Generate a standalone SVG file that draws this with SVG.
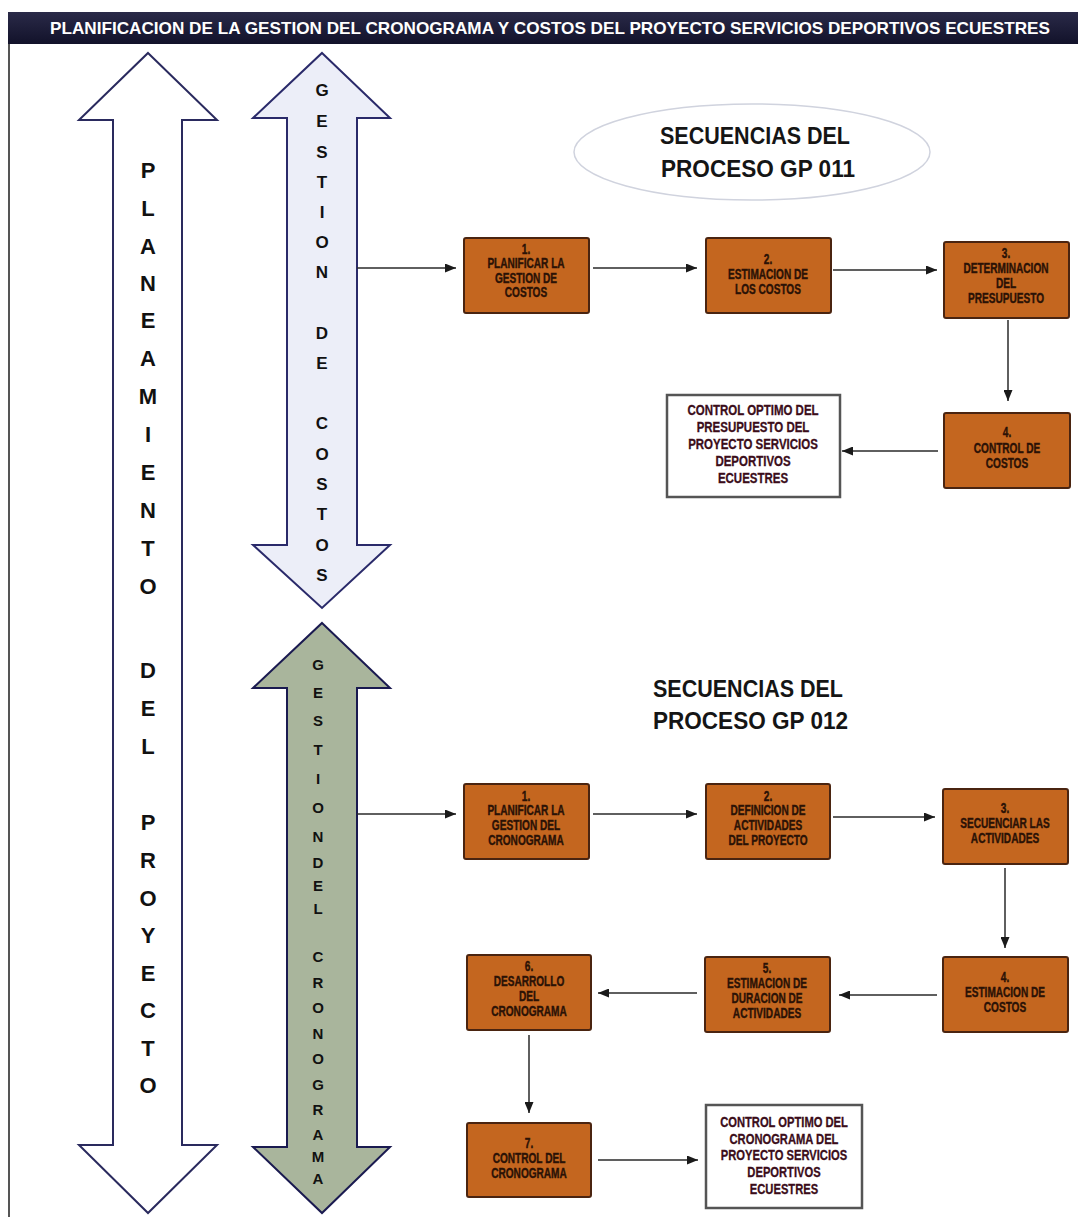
<svg xmlns="http://www.w3.org/2000/svg" width="1086" height="1217" viewBox="0 0 1086 1217">
<defs>
<marker id="ah" markerUnits="userSpaceOnUse" markerWidth="11" markerHeight="9" refX="11" refY="4.5" orient="auto">
<path d="M0,0 L11,4.5 L0,9 z" fill="#1a1a1a"/>
</marker>
<linearGradient id="tb" x1="0" y1="0" x2="0" y2="1">
<stop offset="0" stop-color="#2a2a48"/>
<stop offset="1" stop-color="#12122a"/>
</linearGradient>
</defs>
<style>
.bx{fill:#c4661f;stroke:#4a2410;stroke-width:2}
.wb{fill:#ffffff;stroke:#555555;stroke-width:2.5}
.bt{font-family:"Liberation Sans",Arial,sans-serif;font-weight:bold;font-size:14px;fill:#2b1206;stroke:#2b1206;stroke-width:0.4;text-anchor:middle}
.wt{font-family:"Liberation Sans",Arial,sans-serif;font-weight:bold;font-size:14px;fill:#3b0d1a;stroke:#3b0d1a;stroke-width:0.3;text-anchor:middle}
.cn{stroke:#2a2a2a;stroke-width:1.5;fill:none;marker-end:url(#ah)}
.al{font-family:"Liberation Sans",Arial,sans-serif;font-weight:bold;fill:#111111;text-anchor:middle}
.seq{font-family:"Liberation Sans",Arial,sans-serif;font-weight:bold;font-size:24px;fill:#151515}
</style>
<rect width="1086" height="1217" fill="#ffffff"/>
<g id="title">
<rect x="8" y="12" width="1070" height="32" fill="url(#tb)"/>
<text x="550" y="34" font-family="Liberation Sans, Arial, sans-serif" font-weight="bold" font-size="17" fill="#ffffff" text-anchor="middle" textLength="1000" lengthAdjust="spacingAndGlyphs">PLANIFICACION DE LA GESTION DEL CRONOGRAMA Y COSTOS DEL PROYECTO SERVICIOS DEPORTIVOS ECUESTRES</text>
</g>
<line x1="9" y1="44" x2="9" y2="1217" stroke="#555555" stroke-width="2"/>

<g id="planeamiento">
<path d="M148,53 L217,120 L182,120 L182,1145 L217,1145 L148,1213 L79,1145 L113,1145 L113,120 L79,120 Z" fill="#ffffff" stroke="#2a2a5e" stroke-width="2"/>
<g class="al" font-size="22">
<text x="148" y="178">P</text><text x="148" y="216">L</text><text x="148" y="254">A</text><text x="148" y="291">N</text><text x="148" y="328">E</text><text x="148" y="366">A</text><text x="148" y="404">M</text><text x="148" y="442">I</text><text x="148" y="480">E</text><text x="148" y="518">N</text><text x="148" y="556">T</text><text x="148" y="594">O</text>
<text x="148" y="678">D</text><text x="148" y="716">E</text><text x="148" y="754">L</text>
<text x="148" y="830">P</text><text x="148" y="868">R</text><text x="148" y="906">O</text><text x="148" y="943">Y</text><text x="148" y="981">E</text><text x="148" y="1018">C</text><text x="148" y="1056">T</text><text x="148" y="1093">O</text>
</g>
</g>

<g id="gestion-costos">
<path d="M322,53 L390,118 L357,118 L357,545 L390,545 L322,608 L253,545 L287,545 L287,118 L253,118 Z" fill="#eceef8" stroke="#2a2a6a" stroke-width="2"/>
<g class="al" font-size="17">
<text x="322" y="96">G</text><text x="322" y="127">E</text><text x="322" y="158">S</text><text x="322" y="188">T</text><text x="322" y="218">I</text><text x="322" y="248">O</text><text x="322" y="278">N</text>
<text x="322" y="339">D</text><text x="322" y="369">E</text>
<text x="322" y="429">C</text><text x="322" y="460">O</text><text x="322" y="490">S</text><text x="322" y="520">T</text><text x="322" y="551">O</text><text x="322" y="581">S</text>
</g>
</g>

<g id="gestion-cronograma">
<path d="M322,623 L390,688 L357,688 L357,1147 L390,1147 L322,1213 L253,1147 L287,1147 L287,688 L253,688 Z" fill="#a9b59c" stroke="#1a1a50" stroke-width="2"/>
<g class="al" font-size="15">
<text x="318" y="670">G</text><text x="318" y="698">E</text><text x="318" y="726">S</text><text x="318" y="755">T</text><text x="318" y="784">I</text><text x="318" y="813">O</text><text x="318" y="842">N</text>
<text x="318" y="868">D</text><text x="318" y="891">E</text><text x="318" y="914">L</text>
<text x="318" y="962">C</text><text x="318" y="988">R</text><text x="318" y="1013">O</text><text x="318" y="1039">N</text><text x="318" y="1064">O</text><text x="318" y="1090">G</text><text x="318" y="1115">R</text><text x="318" y="1140">A</text><text x="318" y="1162">M</text><text x="318" y="1184">A</text>
</g>
</g>

<g id="seq-011">
<ellipse cx="752" cy="152" rx="178" ry="48" fill="none" stroke="#d0d3de" stroke-width="1.5"/>
<text class="seq" x="660" y="144" textLength="190" lengthAdjust="spacingAndGlyphs">SECUENCIAS DEL</text>
<text class="seq" x="661" y="177" textLength="194" lengthAdjust="spacingAndGlyphs">PROCESO GP 011</text>
</g>
<g id="seq-012">
<text class="seq" x="653" y="697" textLength="190" lengthAdjust="spacingAndGlyphs">SECUENCIAS DEL</text>
<text class="seq" x="653" y="729" textLength="195" lengthAdjust="spacingAndGlyphs">PROCESO GP 012</text>
</g>

<g id="b1"><rect class="bx" x="464" y="238" width="125" height="75" rx="2"/>
<text class="bt" transform="translate(526 0) scale(0.72 1)"><tspan x="0" y="254">1.</tspan><tspan x="0" y="268">PLANIFICAR LA</tspan><tspan x="0" y="283">GESTION DE</tspan><tspan x="0" y="297">COSTOS</tspan></text></g>
<g id="b2"><rect class="bx" x="706" y="238" width="125" height="75" rx="2"/>
<text class="bt" transform="translate(768 0) scale(0.72 1)"><tspan x="0" y="264">2.</tspan><tspan x="0" y="279">ESTIMACION DE</tspan><tspan x="0" y="294">LOS COSTOS</tspan></text></g>
<g id="b3"><rect class="bx" x="944" y="242" width="125" height="76" rx="2"/>
<text class="bt" transform="translate(1006 0) scale(0.72 1)"><tspan x="0" y="258">3.</tspan><tspan x="0" y="273">DETERMINACION</tspan><tspan x="0" y="288">DEL</tspan><tspan x="0" y="303">PRESUPUESTO</tspan></text></g>
<g id="b4"><rect class="bx" x="944" y="413" width="126" height="75" rx="2"/>
<text class="bt" transform="translate(1007 0) scale(0.72 1)"><tspan x="0" y="437">4.</tspan><tspan x="0" y="453">CONTROL DE</tspan><tspan x="0" y="468">COSTOS</tspan></text></g>
<g id="w1"><rect class="wb" x="667" y="395" width="173" height="102"/>
<text class="wt" transform="translate(753 0) scale(0.82 1)"><tspan x="0" y="415">CONTROL OPTIMO DEL</tspan><tspan x="0" y="432">PRESUPUESTO DEL</tspan><tspan x="0" y="449">PROYECTO SERVICIOS</tspan><tspan x="0" y="466">DEPORTIVOS</tspan><tspan x="0" y="483">ECUESTRES</tspan></text></g>

<g id="c1"><rect class="bx" x="464" y="784" width="125" height="75" rx="2"/>
<text class="bt" transform="translate(526 0) scale(0.72 1)"><tspan x="0" y="801">1.</tspan><tspan x="0" y="815">PLANIFICAR LA</tspan><tspan x="0" y="830">GESTION DEL</tspan><tspan x="0" y="845">CRONOGRAMA</tspan></text></g>
<g id="c2"><rect class="bx" x="706" y="784" width="124" height="75" rx="2"/>
<text class="bt" transform="translate(768 0) scale(0.72 1)"><tspan x="0" y="801">2.</tspan><tspan x="0" y="815">DEFINICION DE</tspan><tspan x="0" y="830">ACTIVIDADES</tspan><tspan x="0" y="845">DEL PROYECTO</tspan></text></g>
<g id="c3"><rect class="bx" x="943" y="789" width="125" height="75" rx="2"/>
<text class="bt" transform="translate(1005 0) scale(0.72 1)"><tspan x="0" y="813">3.</tspan><tspan x="0" y="828">SECUENCIAR LAS</tspan><tspan x="0" y="843">ACTIVIDADES</tspan></text></g>
<g id="c4"><rect class="bx" x="943" y="957" width="125" height="75" rx="2"/>
<text class="bt" transform="translate(1005 0) scale(0.72 1)"><tspan x="0" y="982">4.</tspan><tspan x="0" y="997">ESTIMACION DE</tspan><tspan x="0" y="1012">COSTOS</tspan></text></g>
<g id="c5"><rect class="bx" x="705" y="957" width="125" height="75" rx="2"/>
<text class="bt" transform="translate(767 0) scale(0.72 1)"><tspan x="0" y="973">5.</tspan><tspan x="0" y="988">ESTIMACION DE</tspan><tspan x="0" y="1003">DURACION DE</tspan><tspan x="0" y="1018">ACTIVIDADES</tspan></text></g>
<g id="c6"><rect class="bx" x="467" y="955" width="124" height="75" rx="2"/>
<text class="bt" transform="translate(529 0) scale(0.72 1)"><tspan x="0" y="971">6.</tspan><tspan x="0" y="986">DESARROLLO</tspan><tspan x="0" y="1001">DEL</tspan><tspan x="0" y="1016">CRONOGRAMA</tspan></text></g>
<g id="c7"><rect class="bx" x="467" y="1123" width="124" height="74" rx="2"/>
<text class="bt" transform="translate(529 0) scale(0.72 1)"><tspan x="0" y="1148">7.</tspan><tspan x="0" y="1163">CONTROL DEL</tspan><tspan x="0" y="1178">CRONOGRAMA</tspan></text></g>
<g id="w2"><rect class="wb" x="706" y="1105" width="156" height="103"/>
<text class="wt" transform="translate(784 0) scale(0.8 1)"><tspan x="0" y="1127">CONTROL OPTIMO DEL</tspan><tspan x="0" y="1144">CRONOGRAMA DEL</tspan><tspan x="0" y="1160">PROYECTO SERVICIOS</tspan><tspan x="0" y="1177">DEPORTIVOS</tspan><tspan x="0" y="1194">ECUESTRES</tspan></text></g>

<g id="connectors">
<line class="cn" x1="357" y1="268" x2="456" y2="268"/>
<line class="cn" x1="593" y1="268" x2="697" y2="268"/>
<line class="cn" x1="833" y1="270" x2="937" y2="270"/>
<line class="cn" x1="1008" y1="320" x2="1008" y2="401"/>
<line class="cn" x1="938" y1="451" x2="842" y2="451"/>
<line class="cn" x1="357" y1="814" x2="456" y2="814"/>
<line class="cn" x1="593" y1="814" x2="697" y2="814"/>
<line class="cn" x1="833" y1="817" x2="935" y2="817"/>
<line class="cn" x1="1005" y1="868" x2="1005" y2="948"/>
<line class="cn" x1="937" y1="995" x2="839" y2="995"/>
<line class="cn" x1="697" y1="993" x2="598" y2="993"/>
<line class="cn" x1="529" y1="1035" x2="529" y2="1113"/>
<line class="cn" x1="598" y1="1160" x2="698" y2="1160"/>
</g>
</svg>
